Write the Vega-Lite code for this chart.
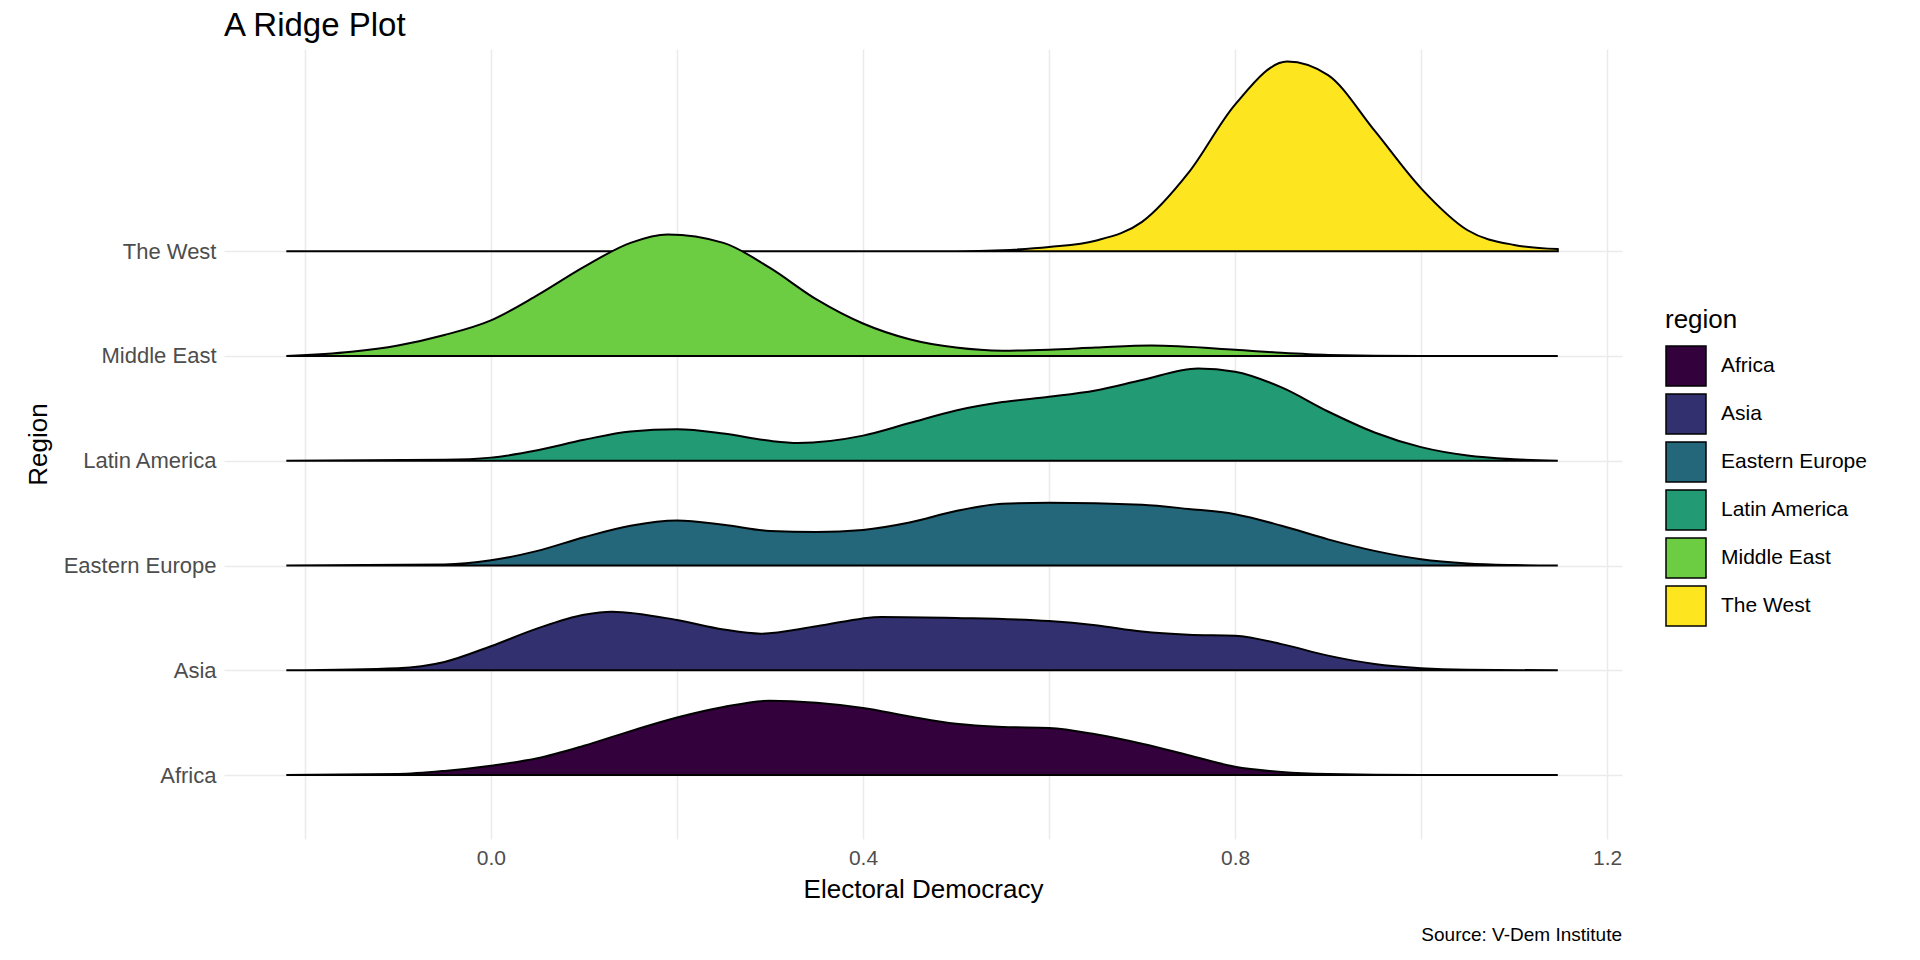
{
  "$schema": "https://vega.github.io/schema/vega-lite/v6.json",
  "autosize": "none",
  "width": 1398,
  "height": 790,
  "padding": {"left": 224, "top": 49, "right": 298, "bottom": 121},
  "background": "white",
  "title": {"text": "A Ridge Plot", "anchor": "start", "frame": "group", "font": "Liberation Sans", "fontSize": 33, "fontWeight": "normal", "color": "#000000", "offset": 6},
  "config": {
    "view": {"stroke": null},
    "font": "Liberation Sans",
    "axis": {"domain": false, "ticks": false, "labelFontSize": 21, "labelColor": "#4D4D4D", "titleFontSize": 26, "titleFontWeight": "normal", "titleColor": "#000000", "gridColor": "#EBEBEB", "gridWidth": 1.5}
  },
  "datasets": {
    "ridges": [
      {"region":"The West","base":5,"x":-0.22,"d":0},{"region":"The West","base":5,"x":0.5,"d":0},{"region":"The West","base":5,"x":0.55,"d":0.01},{"region":"The West","base":5,"x":0.6,"d":0.04},{"region":"The West","base":5,"x":0.65,"d":0.1},{"region":"The West","base":5,"x":0.7,"d":0.28},{"region":"The West","base":5,"x":0.75,"d":0.75},{"region":"The West","base":5,"x":0.8,"d":1.4},{"region":"The West","base":5,"x":0.856,"d":1.81},{"region":"The West","base":5,"x":0.9,"d":1.68},{"region":"The West","base":5,"x":0.95,"d":1.15},{"region":"The West","base":5,"x":1.0,"d":0.6},{"region":"The West","base":5,"x":1.05,"d":0.2},{"region":"The West","base":5,"x":1.1,"d":0.06},{"region":"The West","base":5,"x":1.147,"d":0.02},
      {"region":"Middle East","base":4,"x":-0.22,"d":0},{"region":"Middle East","base":4,"x":-0.15,"d":0.04},{"region":"Middle East","base":4,"x":-0.1,"d":0.1},{"region":"Middle East","base":4,"x":-0.05,"d":0.2},{"region":"Middle East","base":4,"x":0,"d":0.34},{"region":"Middle East","base":4,"x":0.05,"d":0.58},{"region":"Middle East","base":4,"x":0.1,"d":0.85},{"region":"Middle East","base":4,"x":0.15,"d":1.08},{"region":"Middle East","base":4,"x":0.19,"d":1.16},{"region":"Middle East","base":4,"x":0.25,"d":1.08},{"region":"Middle East","base":4,"x":0.3,"d":0.84},{"region":"Middle East","base":4,"x":0.35,"d":0.54},{"region":"Middle East","base":4,"x":0.4,"d":0.31},{"region":"Middle East","base":4,"x":0.45,"d":0.16},{"region":"Middle East","base":4,"x":0.5,"d":0.08},{"region":"Middle East","base":4,"x":0.55,"d":0.05},{"region":"Middle East","base":4,"x":0.6,"d":0.06},{"region":"Middle East","base":4,"x":0.65,"d":0.08},{"region":"Middle East","base":4,"x":0.71,"d":0.1},{"region":"Middle East","base":4,"x":0.8,"d":0.06},{"region":"Middle East","base":4,"x":0.85,"d":0.03},{"region":"Middle East","base":4,"x":0.9,"d":0.01},{"region":"Middle East","base":4,"x":1.0,"d":0},{"region":"Middle East","base":4,"x":1.147,"d":0},
      {"region":"Latin America","base":3,"x":-0.22,"d":0},{"region":"Latin America","base":3,"x":-0.05,"d":0.01},{"region":"Latin America","base":3,"x":0,"d":0.03},{"region":"Latin America","base":3,"x":0.05,"d":0.1},{"region":"Latin America","base":3,"x":0.1,"d":0.2},{"region":"Latin America","base":3,"x":0.15,"d":0.28},{"region":"Latin America","base":3,"x":0.2,"d":0.3},{"region":"Latin America","base":3,"x":0.25,"d":0.26},{"region":"Latin America","base":3,"x":0.3,"d":0.19},{"region":"Latin America","base":3,"x":0.33,"d":0.17},{"region":"Latin America","base":3,"x":0.4,"d":0.24},{"region":"Latin America","base":3,"x":0.45,"d":0.36},{"region":"Latin America","base":3,"x":0.5,"d":0.48},{"region":"Latin America","base":3,"x":0.55,"d":0.56},{"region":"Latin America","base":3,"x":0.6,"d":0.61},{"region":"Latin America","base":3,"x":0.65,"d":0.67},{"region":"Latin America","base":3,"x":0.7,"d":0.77},{"region":"Latin America","base":3,"x":0.76,"d":0.88},{"region":"Latin America","base":3,"x":0.8,"d":0.85},{"region":"Latin America","base":3,"x":0.85,"d":0.7},{"region":"Latin America","base":3,"x":0.9,"d":0.47},{"region":"Latin America","base":3,"x":0.95,"d":0.27},{"region":"Latin America","base":3,"x":1.0,"d":0.13},{"region":"Latin America","base":3,"x":1.05,"d":0.05},{"region":"Latin America","base":3,"x":1.1,"d":0.015},{"region":"Latin America","base":3,"x":1.147,"d":0},
      {"region":"Eastern Europe","base":2,"x":-0.22,"d":0},{"region":"Eastern Europe","base":2,"x":-0.05,"d":0.01},{"region":"Eastern Europe","base":2,"x":0,"d":0.05},{"region":"Eastern Europe","base":2,"x":0.05,"d":0.14},{"region":"Eastern Europe","base":2,"x":0.1,"d":0.27},{"region":"Eastern Europe","base":2,"x":0.15,"d":0.38},{"region":"Eastern Europe","base":2,"x":0.2,"d":0.43},{"region":"Eastern Europe","base":2,"x":0.25,"d":0.39},{"region":"Eastern Europe","base":2,"x":0.3,"d":0.33},{"region":"Eastern Europe","base":2,"x":0.35,"d":0.32},{"region":"Eastern Europe","base":2,"x":0.4,"d":0.34},{"region":"Eastern Europe","base":2,"x":0.45,"d":0.41},{"region":"Eastern Europe","base":2,"x":0.5,"d":0.52},{"region":"Eastern Europe","base":2,"x":0.55,"d":0.59},{"region":"Eastern Europe","base":2,"x":0.6,"d":0.6},{"region":"Eastern Europe","base":2,"x":0.7,"d":0.58},{"region":"Eastern Europe","base":2,"x":0.75,"d":0.54},{"region":"Eastern Europe","base":2,"x":0.8,"d":0.49},{"region":"Eastern Europe","base":2,"x":0.85,"d":0.38},{"region":"Eastern Europe","base":2,"x":0.9,"d":0.25},{"region":"Eastern Europe","base":2,"x":0.95,"d":0.14},{"region":"Eastern Europe","base":2,"x":1.0,"d":0.06},{"region":"Eastern Europe","base":2,"x":1.05,"d":0.02},{"region":"Eastern Europe","base":2,"x":1.1,"d":0.005},{"region":"Eastern Europe","base":2,"x":1.147,"d":0},
      {"region":"Asia","base":1,"x":-0.22,"d":0},{"region":"Asia","base":1,"x":-0.1,"d":0.02},{"region":"Asia","base":1,"x":-0.05,"d":0.08},{"region":"Asia","base":1,"x":0,"d":0.23},{"region":"Asia","base":1,"x":0.05,"d":0.4},{"region":"Asia","base":1,"x":0.1,"d":0.53},{"region":"Asia","base":1,"x":0.13,"d":0.56},{"region":"Asia","base":1,"x":0.2,"d":0.48},{"region":"Asia","base":1,"x":0.25,"d":0.39},{"region":"Asia","base":1,"x":0.29,"d":0.35},{"region":"Asia","base":1,"x":0.35,"d":0.42},{"region":"Asia","base":1,"x":0.42,"d":0.51},{"region":"Asia","base":1,"x":0.5,"d":0.5},{"region":"Asia","base":1,"x":0.6,"d":0.47},{"region":"Asia","base":1,"x":0.65,"d":0.43},{"region":"Asia","base":1,"x":0.7,"d":0.37},{"region":"Asia","base":1,"x":0.75,"d":0.34},{"region":"Asia","base":1,"x":0.8,"d":0.33},{"region":"Asia","base":1,"x":0.85,"d":0.25},{"region":"Asia","base":1,"x":0.9,"d":0.14},{"region":"Asia","base":1,"x":0.95,"d":0.06},{"region":"Asia","base":1,"x":1.0,"d":0.02},{"region":"Asia","base":1,"x":1.05,"d":0.005},{"region":"Asia","base":1,"x":1.147,"d":0},
      {"region":"Africa","base":0,"x":-0.22,"d":0},{"region":"Africa","base":0,"x":-0.1,"d":0.01},{"region":"Africa","base":0,"x":-0.05,"d":0.04},{"region":"Africa","base":0,"x":0,"d":0.09},{"region":"Africa","base":0,"x":0.05,"d":0.16},{"region":"Africa","base":0,"x":0.1,"d":0.28},{"region":"Africa","base":0,"x":0.15,"d":0.42},{"region":"Africa","base":0,"x":0.2,"d":0.55},{"region":"Africa","base":0,"x":0.25,"d":0.65},{"region":"Africa","base":0,"x":0.3,"d":0.71},{"region":"Africa","base":0,"x":0.35,"d":0.69},{"region":"Africa","base":0,"x":0.4,"d":0.64},{"region":"Africa","base":0,"x":0.45,"d":0.56},{"region":"Africa","base":0,"x":0.5,"d":0.49},{"region":"Africa","base":0,"x":0.55,"d":0.46},{"region":"Africa","base":0,"x":0.6,"d":0.45},{"region":"Africa","base":0,"x":0.65,"d":0.39},{"region":"Africa","base":0,"x":0.7,"d":0.3},{"region":"Africa","base":0,"x":0.75,"d":0.19},{"region":"Africa","base":0,"x":0.8,"d":0.08},{"region":"Africa","base":0,"x":0.85,"d":0.03},{"region":"Africa","base":0,"x":0.9,"d":0.01},{"region":"Africa","base":0,"x":1.0,"d":0},{"region":"Africa","base":0,"x":1.147,"d":0}
    ],
    "caption": [{"label": "Source: V-Dem Institute", "x": 1.216}]
  },
  "layer": [
    {
      "data": {"name": "ridges"},
      "transform": [{"calculate": "datum.base + datum.d", "as": "top"}],
      "mark": {"type": "area", "stroke": "#000000", "strokeWidth": 2, "interpolate": "monotone"},
      "encoding": {
        "x": {"field": "x", "type": "quantitative", "title": "Electoral Democracy",
              "scale": {"domain": [-0.287, 1.216], "nice": false, "zero": false},
              "axis": {"values": [-0.2, 0, 0.2, 0.4, 0.6, 0.8, 1.0, 1.2], "labelExpr": "abs(datum.value * 10 % 4) < 0.01 ? format(datum.value, '.1f') : ''", "labelPadding": 8, "titlePadding": 8}},
        "y": {"field": "top", "type": "quantitative", "title": "Region",
              "scale": {"domain": [-0.61, 6.93], "nice": false, "zero": false},
              "axis": {"values": [0, 1, 2, 3, 4, 5], "labelFontSize": 22, "labelExpr": "['Africa','Asia','Eastern Europe','Latin America','Middle East','The West'][datum.value]", "labelPadding": 8, "titlePadding": 12}},
        "y2": {"field": "base"},
        "color": {"field": "region", "type": "nominal",
                  "scale": {"domain": ["Africa", "Asia", "Eastern Europe", "Latin America", "Middle East", "The West"],
                            "range": ["#33013B", "#32306F", "#24677A", "#229A73", "#6CCD43", "#FDE51F"]},
                  "legend": {"title": "region", "titleFontSize": 26, "titleFontWeight": "normal", "titleColor": "#000000", "labelFontSize": 21, "labelColor": "#000000", "labelOffset": 14, "symbolType": "square", "symbolSize": 1600, "symbolStrokeColor": "#000000", "symbolStrokeWidth": 1.5, "rowPadding": 2, "orient": "none", "legendX": 1441, "legendY": 258, "titlePadding": 12}},
        "order": {"field": "base", "sort": "descending"}
      }
    },
    {
      "data": {"name": "caption"},
      "mark": {"type": "text", "align": "right", "baseline": "bottom", "fontSize": 19, "color": "#000000"},
      "encoding": {
        "x": {"field": "x", "type": "quantitative"},
        "y": {"value": 896},
        "text": {"field": "label"}
      }
    }
  ]
}
